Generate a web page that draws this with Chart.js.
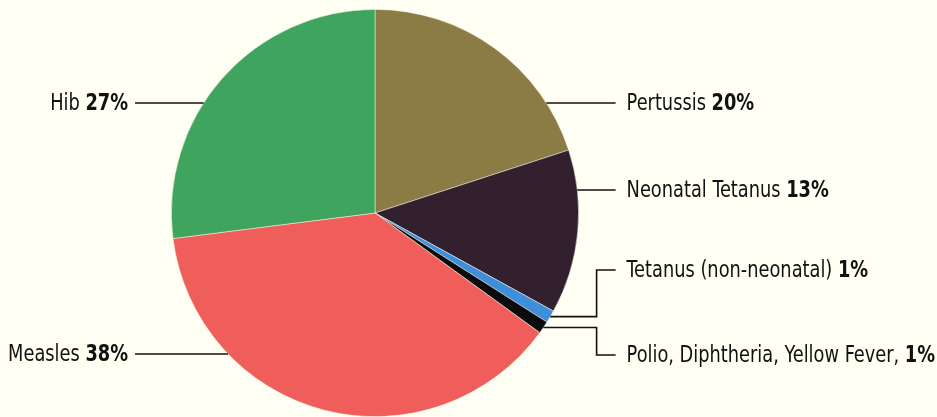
<!DOCTYPE html>
<html>
<head>
<meta charset="utf-8">
<script src="https://cdn.jsdelivr.net/npm/chart.js@4"></script>
<style>
  html, body { margin: 0; padding: 0; background: #fffff4; }
  #wrap { width: 937px; height: 417px; }
</style>
</head>
<body>
<div id="wrap"><canvas id="pie"></canvas></div>
<script>
const categories = ["Pertussis", "Neonatal Tetanus", "Tetanus (non-neonatal)", "Polio, Diphtheria, Yellow Fever,", "Measles", "Hib"];
const shares = [20, 13, 1, 1, 38, 27];
const shareLabels = ["20%", "13%", "1%", "1%", "38%", "27%"];
const colors = ["#8b7c45", "#33202f", "#3f8edb", "#0b0b0b", "#ef5e5a", "#3fa45d"];

// where each label goes: side, label line y, and whether the leader starts at the slice middle
const labelLayout = [
  { side: "right", y: 103 },
  { side: "right", y: 190 },
  { side: "right", y: 270, fromSlice: true },
  { side: "right", y: 355, fromSlice: true },
  { side: "left", y: 354 },
  { side: "left", y: 103 },
];

const FONT = '"DejaVu Sans Condensed", "DejaVu Sans", sans-serif';
const FONT_PX = 23;
const SQUEEZE = 0.86; // the print uses a condensed face

const calloutPlugin = {
  id: "callouts",
  afterDraw(chart) {
    const ctx = chart.ctx;
    const arcs = chart.getDatasetMeta(0).data;
    ctx.save();
    ctx.strokeStyle = "#111";
    ctx.lineWidth = 1.6;
    ctx.fillStyle = "#111";
    ctx.textBaseline = "middle";
    arcs.forEach((arc, i) => {
      const lay = labelLayout[i];
      const cx = arc.x, cy = arc.y, r = arc.outerRadius;
      ctx.beginPath();
      if (lay.fromSlice) {
        const mid = (arc.startAngle + arc.endAngle) / 2;
        const sx = cx + r * Math.cos(mid), sy = cy + r * Math.sin(mid);
        const bx = cx + r + 18;
        ctx.moveTo(sx, sy);
        ctx.lineTo(bx, sy);
        ctx.lineTo(bx, lay.y);
        ctx.lineTo(cx + r + 37, lay.y);
      } else {
        const dy = lay.y - cy;
        const ex = Math.sqrt(Math.max(r * r - dy * dy, 0));
        if (lay.side === "right") {
          ctx.moveTo(cx + ex, lay.y);
          ctx.lineTo(cx + r + 37, lay.y);
        } else {
          ctx.moveTo(cx - ex, lay.y);
          ctx.lineTo(135, lay.y);
        }
      }
      ctx.stroke();

      const name = categories[i] + " ";
      const pct = shareLabels[i];
      ctx.font = FONT_PX + "px " + FONT;
      const wName = ctx.measureText(name).width * SQUEEZE;
      ctx.font = "bold " + FONT_PX + "px " + FONT;
      const wPct = ctx.measureText(pct).width * SQUEEZE;
      const x = lay.side === "right" ? cx + r + 48 : 128 - wName - wPct;
      ctx.save();
      ctx.translate(x, lay.y + 1);
      ctx.scale(SQUEEZE, 1);
      ctx.font = FONT_PX + "px " + FONT;
      ctx.fillText(name, 0, 0);
      ctx.font = "bold " + FONT_PX + "px " + FONT;
      ctx.fillText(pct, wName / SQUEEZE, 0);
      ctx.restore();
    });
    ctx.restore();
  },
};

new Chart(document.getElementById("pie"), {
  type: "pie",
  data: {
    labels: categories,
    datasets: [
      {
        data: shares,
        backgroundColor: colors,
        borderColor: "rgba(255,255,235,0.6)",
        borderWidth: 0.8,
      },
    ],
  },
  options: {
    responsive: true,
    maintainAspectRatio: false,
    animation: false,
    layout: { padding: { left: 0, right: 187, top: 9, bottom: 0 } },
    plugins: {
      legend: { display: false },
      tooltip: { enabled: false },
    },
  },
  plugins: [calloutPlugin],
});
</script>
</body>
</html>
